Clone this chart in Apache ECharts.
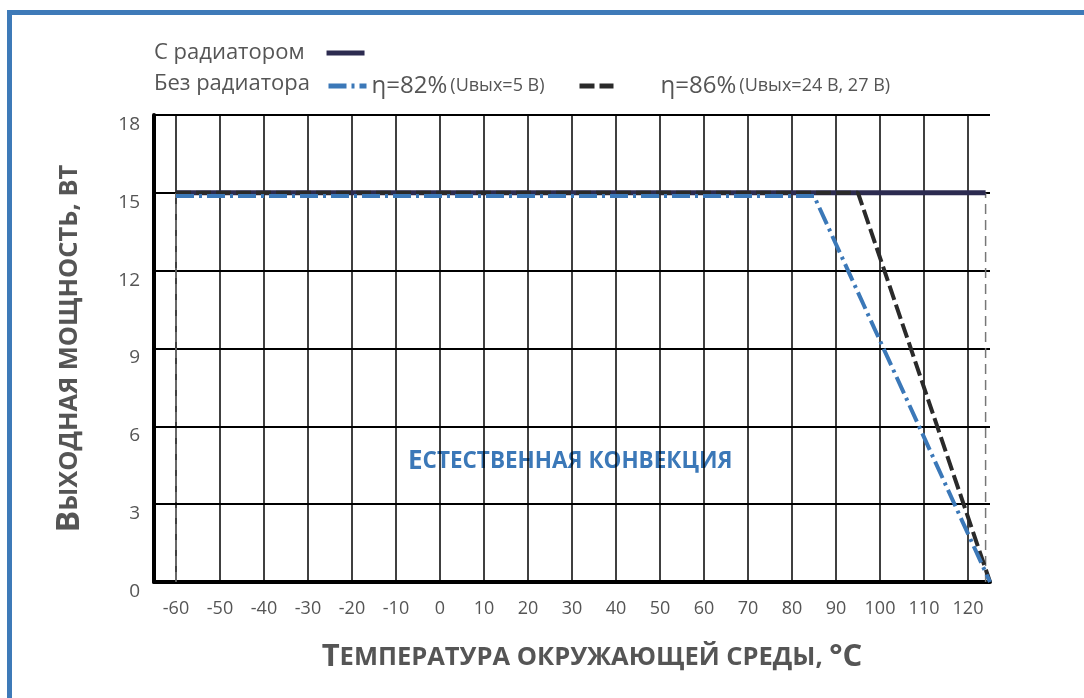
<!DOCTYPE html>
<html>
<head>
<meta charset="utf-8">
<script src="https://cdn.jsdelivr.net/npm/echarts@6/dist/echarts.min.js"></script>
<style>
  html, body { margin: 0; padding: 0; background: #fff; }
  #chart { width: 1084px; height: 698px; }
</style>
</head>
<body>
<div id="chart"></div>
<script>
// шкалы
const xTicks = [-60, -50, -40, -30, -20, -10, 0, 10, 20, 30, 40, 50, 60, 70, 80, 90, 100, 110, 120];
const yTicks = [0, 3, 6, 9, 12, 15, 18];

// кривые (температура, мощность)
const withRadiator = [[-60, 15], [124, 15]];
const eta82 = [[-60, 14.88], [85, 14.88], [125, 0]];
const eta86 = [[-60, 15], [95, 15], [125, 0]];
const dropLeft = [[-60, 0], [-60, 15]];
const dropRight = [[124, 0], [124, 15]];

const names = ['С радиатором', 'η=82% (Uвых=5 В)', 'η=86% (Uвых=24 В, 27 В)'];

const gray = '#555';
const fontFamily = '"Open Sans", "Noto Sans", sans-serif';

const chart = echarts.init(document.getElementById('chart'));

const splitName = (name) => {
  const i = name.indexOf(' ');
  return [name.slice(0, i), name.slice(i + 1)];
};

// общий вид значков легенды: только линия, без маркера
const legendBase = {
  padding: 0,
  itemHeight: 10,
  lineStyle: { width: 5 },
  itemStyle: { opacity: 0 }
};

const option = {
  animation: false,
  textStyle: { fontFamily: fontFamily },
  grid: { left: 154, right: 94, top: 115, bottom: 116 },
  legend: [
    Object.assign({}, legendBase, {
      data: [names[0]],
      left: 154, top: 42,
      align: 'right',
      itemWidth: 38,
      formatter: (name) => '{a|' + name + '}',
      textStyle: { rich: { a: { fontSize: 22, color: gray, padding: [0, 17, 0, 0] } } }
    }),
    Object.assign({}, legendBase, {
      data: [names[1]],
      left: 326, top: 74,
      itemWidth: 38,
      formatter: (name) => { const p = splitName(name); return '{a|' + p[0] + '} {b|' + p[1] + '}'; },
      textStyle: { rich: { a: { fontSize: 24, color: gray }, b: { fontSize: 18, color: gray } } }
    }),
    Object.assign({}, legendBase, {
      data: [names[2]],
      left: 577, top: 74,
      itemWidth: 34,
      formatter: (name) => { const p = splitName(name); return '{a|' + p[0] + '} {b|' + p[1] + '}'; },
      textStyle: { rich: { a: { fontSize: 24, color: gray, padding: [0, 0, 0, 42] }, b: { fontSize: 18, color: gray } } }
    })
  ],
  xAxis: {
    type: 'value',
    min: -65,
    max: 125,
    axisLine: { show: true, onZero: false, lineStyle: { color: '#000', width: 4 } },
    axisTick: { show: false, customValues: xTicks },
    axisLabel: { customValues: xTicks, fontSize: 18, color: gray, margin: 18 },
    splitLine: { show: true, lineStyle: { color: '#000', width: 1.5 } },
    name: '{a|Т}{b|ЕМПЕРАТУРА ОКРУЖАЮЩЕЙ СРЕДЫ, }{a|°C}',
    nameLocation: 'middle',
    nameGap: 60,
    nameTextStyle: {
      padding: [0, 0, 0, 40],
      rich: {
        a: { fontSize: 31, fontWeight: 'bold', color: gray },
        b: { fontSize: 25.5, fontWeight: 'bold', color: gray }
      }
    }
  },
  yAxis: {
    type: 'value',
    min: 0,
    max: 18,
    interval: 3,
    axisLine: { show: true, onZero: false, lineStyle: { color: '#000', width: 4 } },
    axisTick: { show: false },
    axisLabel: {
      fontSize: 19, color: gray, margin: 14,
      verticalAlign: 'top'
    },
    splitLine: { show: true, lineStyle: { color: '#000', width: 2 } },
    name: '{a|В}{b|ЫХОДНАЯ МОЩНОСТЬ, ВТ}',
    nameLocation: 'middle',
    nameRotate: 90,
    nameGap: 68,
    nameTextStyle: {
      rich: {
        a: { fontSize: 32, fontWeight: 'bold', color: gray },
        b: { fontSize: 25.5, fontWeight: 'bold', color: gray }
      }
    }
  },
  series: [
    {
      type: 'line', name: 'drop-left', data: dropLeft, symbol: 'none', silent: true,
      lineStyle: { color: '#777', width: 1.5, type: [10, 6] }, z: 1
    },
    {
      type: 'line', name: 'drop-right', data: dropRight, symbol: 'none', silent: true,
      lineStyle: { color: '#777', width: 1.5, type: [10, 6] }, z: 1
    },
    {
      type: 'line', name: names[0], data: withRadiator, symbol: 'none',
      color: '#2c2b50',
      lineStyle: { color: '#2c2b50', width: 5 }, z: 2
    },
    {
      type: 'line', name: names[2], data: eta86, symbol: 'none',
      color: '#2a2a2a',
      lineStyle: { color: '#2a2a2a', width: 4, type: [15, 5] }, z: 3
    },
    {
      type: 'line', name: names[1], data: eta82, symbol: 'none',
      color: '#3b78b8',
      lineStyle: { color: '#3b78b8', width: 4, type: [18, 5, 3, 5] }, z: 4
    }
  ],
  graphic: [
    { type: 'rect', left: 7, top: 10, shape: { width: 1084, height: 5 }, style: { fill: '#3e7ab8' } },
    { type: 'rect', left: 7, top: 10, shape: { width: 5, height: 700 }, style: { fill: '#3e7ab8' } },
    {
      type: 'text', left: 154, top: 73,
      style: { text: 'Без радиатора', fontSize: 22, fill: gray, fontFamily: fontFamily }
    },
    {
      type: 'text', left: 408, top: 449,
      style: {
        text: '{a|Е}{b|СТЕСТВЕННАЯ КОНВЕКЦИЯ}',
        rich: {
          a: { fontSize: 26, fontWeight: 'bold', fill: '#3b78b8', fontFamily: fontFamily },
          b: { fontSize: 22.5, fontWeight: 'bold', fill: '#3b78b8', fontFamily: fontFamily }
        }
      }
    }
  ]
};

chart.setOption(option);
</script>
</body>
</html>
